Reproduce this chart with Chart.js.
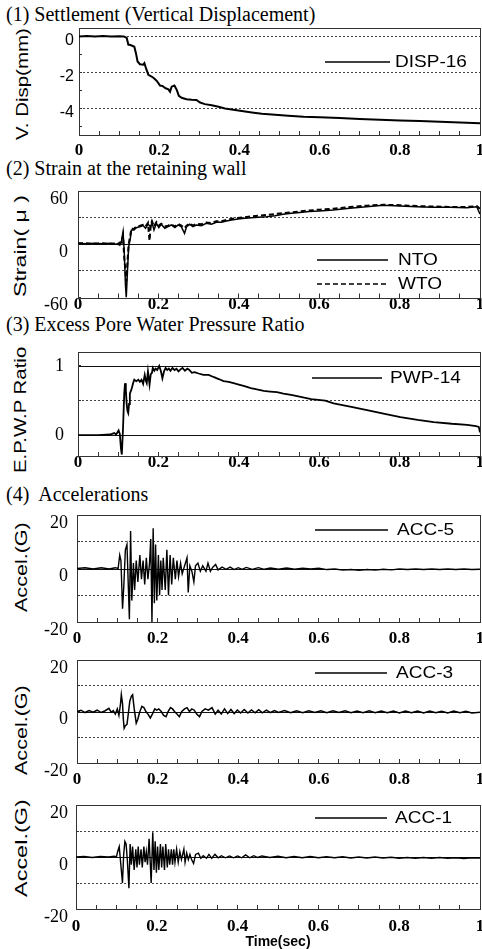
<!DOCTYPE html>
<html>
<head>
<meta charset="utf-8">
<script src="https://cdn.jsdelivr.net/npm/chart.js"></script>
<style>
  html, body { margin: 0; padding: 0; background: #fff; }
  body { width: 482px; height: 949px; overflow: hidden; position: relative; }
  .head { position: absolute; left: 6px; font: 20px "Liberation Serif", "Times New Roman", serif; line-height: 20px; white-space: pre; color: #000; }
  .ytitle { position: absolute; font: 17px "Liberation Sans", Arial, sans-serif; line-height: 17px; white-space: pre; color: #000; }
  canvas { position: absolute; left: 0; }
</style>
</head>
<body>
<div class="head" style="top:4px">(1) Settlement (Vertical Displacement)</div>
<div class="head" style="top:158px">(2) Strain at the retaining wall</div>
<div class="head" style="top:314px">(3) Excess Pore Water Pressure Ratio</div>
<div class="head" style="top:484px">(4)  Accelerations</div>

<div class="ytitle" data-x="22" data-y="84" data-len="112">V. Disp(mm)</div>
<div class="ytitle" data-x="20" data-y="246" data-len="102">Strain( μ )</div>
<div class="ytitle" data-x="20" data-y="410" data-len="126">E.P.W.P Ratio</div>
<div class="ytitle" data-x="21" data-y="567" data-len="90">Accel.(G)</div>
<div class="ytitle" data-x="21" data-y="730" data-len="90">Accel.(G)</div>
<div class="ytitle" data-x="21" data-y="848" data-len="98">Accel.(G)</div>

<canvas id="c1"></canvas>
<canvas id="c2"></canvas>
<canvas id="c3"></canvas>
<canvas id="c4"></canvas>
<canvas id="c5"></canvas>
<canvas id="c6"></canvas>

<script>
// time axis
const xTickValues = [0, 0.05, 0.1, 0.15, 0.2, 0.25, 0.3, 0.35, 0.4, 0.45, 0.5,
  0.55, 0.6, 0.65, 0.7, 0.75, 0.8, 0.85, 0.9, 0.95, 1];
const xTickLabels = ['0', '0.2', '0.4', '0.6', '0.8', '1'];

// (1) settlement
const dispTime = [
  0, 0.02, 0.04, 0.06, 0.08, 0.1, 0.112, 0.119, 0.123, 0.13,
  0.138, 0.142, 0.146, 0.152, 0.16, 0.163, 0.167, 0.173, 0.181, 0.187,
  0.194, 0.202, 0.208, 0.216, 0.223, 0.227, 0.231, 0.238, 0.244, 0.249,
  0.256, 0.268, 0.281, 0.293, 0.302, 0.314, 0.331, 0.348, 0.364, 0.385,
  0.406, 0.431, 0.456, 0.489, 0.522, 0.56, 0.6, 0.65, 0.7, 0.75,
  0.8, 0.85, 0.9, 0.95, 1
];
const dispValues = [
  0.03, 0.05, 0.02, 0.05, 0.03, 0.04, 0.03, -0.06, -0.43, -0.47,
  -0.55, -0.91, -1.38, -1.53, -1.56, -1.47, -1.75, -2.13, -2.22, -2.32,
  -2.47, -2.73, -2.75, -2.88, -2.94, -3.07, -2.79, -2.73, -2.98, -3.3,
  -3.41, -3.49, -3.52, -3.54, -3.68, -3.77, -3.83, -3.92, -4.01, -4.09,
  -4.16, -4.24, -4.31, -4.37, -4.42, -4.47, -4.5, -4.55, -4.6, -4.64,
  -4.68, -4.72, -4.76, -4.8, -4.84
];

// (2) strain at the wall
const strainTime = [
  0, 0.02, 0.04, 0.06, 0.08, 0.095, 0.1, 0.104, 0.108, 0.112,
  0.115, 0.118, 0.12, 0.123, 0.126, 0.13, 0.133, 0.139, 0.145, 0.154,
  0.162, 0.168, 0.174, 0.178, 0.181, 0.184, 0.189, 0.195, 0.201, 0.207,
  0.216, 0.224, 0.232, 0.241, 0.249, 0.257, 0.265, 0.27, 0.278, 0.286,
  0.294, 0.307, 0.319, 0.332, 0.344, 0.357, 0.369, 0.382, 0.398, 0.415,
  0.431, 0.448, 0.469, 0.49, 0.51, 0.531, 0.552, 0.575, 0.6, 0.635,
  0.676, 0.718, 0.759, 0.801, 0.842, 0.884, 0.925, 0.967, 0.992, 1
];
const ntoValues = [
  1, 0.5, 1, 0.5, 1, 0, 1, -1, 3, 14,
  -8, -45, -60, -31, -3, 6, 16, 16, 18.7, 19.8,
  21, 18, 22.5, 21, 19.8, 24.7, 16, 23.6, 18.7, 22.5,
  18, 19.8, 21.7, 18.7, 21.7, 19.8, 12.3, 19.8, 22.5, 19.8,
  21.7, 21, 23.6, 22.5, 24.7, 24.7, 26.2, 27.3, 28.4, 29.2,
  29.9, 30.3, 31.1, 32.2, 33.7, 34.8, 35.9, 37, 37.5, 38.6,
  40.5, 42.3, 43.9, 43.1, 42.3, 41.6, 41.6, 41.2, 42.3, 34
];
const wtoValues = [
  1, 1, 0.5, 1, 0.5, 1, 0, 2, 2, 10,
  -15, -30, -42, -20, 0, 10, 18, 17, 20, 21,
  22, 20, 24, 4, 22, 26, 20, 25, 21, 23,
  20, 21, 22.5, 20, 23, 21, 18, 21, 23.5, 21,
  23, 22.5, 24.5, 24, 26, 26, 27.5, 28.5, 29.5, 30.5,
  31.5, 32, 33, 34, 35, 36, 37, 38, 39, 40,
  42, 43.5, 44.5, 44, 43, 42.5, 42, 42, 43, 40
];

// (3) excess pore water pressure ratio
const pwpTime = [
  0, 0.05, 0.08, 0.09, 0.095, 0.099, 0.101, 0.104, 0.107, 0.109,
  0.112, 0.115, 0.117, 0.119, 0.121, 0.123, 0.125, 0.127, 0.129, 0.133,
  0.137, 0.14, 0.145, 0.15, 0.154, 0.158, 0.162, 0.166, 0.169, 0.171,
  0.174, 0.178, 0.181, 0.184, 0.186, 0.19, 0.193, 0.197, 0.202, 0.206,
  0.21, 0.214, 0.218, 0.222, 0.226, 0.23, 0.235, 0.24, 0.245, 0.25,
  0.255, 0.26, 0.266, 0.272, 0.277, 0.283, 0.29, 0.3, 0.312, 0.325,
  0.337, 0.35, 0.362, 0.375, 0.387, 0.4, 0.412, 0.43, 0.445, 0.462,
  0.478, 0.495, 0.511, 0.53, 0.548, 0.58, 0.615, 0.636, 0.68, 0.719,
  0.76, 0.802, 0.845, 0.885, 0.93, 0.968, 0.99, 0.997, 1
];
const pwpValues = [
  0, 0, 0.01, 0.03, 0.01, 0.05, 0.07, 0.02, -0.2, -0.28,
  0.1, 0.6, 0.75, 0.65, 0.46, 0.35, 0.32, 0.45, 0.6, 0.66,
  0.75, 0.8, 0.78, 0.8, 0.77, 0.8, 0.74, 0.87, 0.78, 0.75,
  0.92, 0.73, 0.88, 0.9, 0.97, 0.93, 0.96, 0.94, 1.0, 0.93,
  0.82, 0.92, 0.97, 0.94, 0.96, 0.93, 0.97, 0.94, 0.96, 0.92,
  0.95, 0.97, 0.93, 0.96, 0.94, 0.9, 0.91, 0.89, 0.87, 0.87,
  0.84, 0.81, 0.78, 0.77, 0.75, 0.73, 0.71, 0.68, 0.66, 0.64,
  0.63, 0.62, 0.6, 0.58, 0.56, 0.52, 0.5, 0.46, 0.41, 0.36,
  0.31, 0.26, 0.22, 0.19, 0.165, 0.15, 0.13, 0.12, 0.04
];

// (4) accelerations
const acc5Time = [
  0, 0.02, 0.04, 0.06, 0.08, 0.095, 0.102, 0.106, 0.109, 0.113,
  0.116, 0.12, 0.124, 0.127, 0.13, 0.133, 0.136, 0.14, 0.143, 0.147,
  0.151, 0.156, 0.16, 0.164, 0.168, 0.172, 0.176, 0.18, 0.183, 0.186,
  0.189, 0.192, 0.195, 0.198, 0.202, 0.205, 0.208, 0.211, 0.214, 0.219,
  0.223, 0.227, 0.231, 0.235, 0.239, 0.244, 0.248, 0.252, 0.257, 0.261,
  0.267, 0.273, 0.276, 0.28, 0.285, 0.29, 0.294, 0.3, 0.306, 0.312,
  0.32, 0.325, 0.331, 0.337, 0.344, 0.35, 0.36, 0.37, 0.38, 0.39,
  0.4, 0.41, 0.42, 0.435, 0.45, 0.465, 0.48, 0.5, 0.52, 0.54,
  0.56, 0.58, 0.6, 0.62, 0.64, 0.66, 0.68, 0.7, 0.72, 0.74,
  0.76, 0.78, 0.8, 0.82, 0.84, 0.86, 0.88, 0.9, 0.92, 0.94,
  0.96, 0.98, 1
];
const acc5Values = [
  0, 0.3, -0.2, 0.3, -0.2, 0.3, 0, 5, 3, -15,
  -7, 7, 9, -5, -19, 14, -12, 2, -8, 3,
  -5, 5, -4, 3, -6, 4, -4, 2, 11, -20,
  15, -13, 9, -12, 5, -10, 3, -8, 4, -8,
  7, -10, 5, -6, 4, -4, 3, -3, 2, -2,
  1, 4, -9, 1, -1, -5, 1, 2, -1, 1,
  -1, 2, -1, 0.5, 1.5, -0.5, 0.5, -0.3, 0.5, -0.4,
  0.3, -0.3, 0.4, -0.3, 0.3, -0.3, 0.2, -0.3, 0.2, -0.3,
  0.1, -0.2, 0.1, -0.4, -0.2, -0.6, -0.4, -0.7, -0.4, -0.6,
  -0.3, -0.5, -0.2, -0.4, -0.2, -0.4, -0.2, -0.4, -0.2, -0.4,
  -0.2, -0.4, -0.3
];

const acc3Time = [
  0, 0.01, 0.02, 0.03, 0.04, 0.05, 0.06, 0.07, 0.079, 0.085,
  0.09, 0.095, 0.1, 0.104, 0.108, 0.11, 0.113, 0.115, 0.117, 0.12,
  0.124, 0.128, 0.131, 0.135, 0.138, 0.142, 0.147, 0.151, 0.155, 0.161,
  0.166, 0.171, 0.176, 0.182, 0.187, 0.193, 0.198, 0.203, 0.209, 0.215,
  0.221, 0.226, 0.232, 0.237, 0.242, 0.248, 0.254, 0.26, 0.267, 0.273,
  0.279, 0.285, 0.291, 0.297, 0.304, 0.31, 0.318, 0.326, 0.335, 0.343,
  0.35, 0.358, 0.366, 0.374, 0.382, 0.39, 0.398, 0.406, 0.415, 0.424,
  0.433, 0.442, 0.451, 0.46, 0.47, 0.48, 0.49, 0.5, 0.515, 0.53,
  0.545, 0.56, 0.575, 0.59, 0.605, 0.62, 0.635, 0.65, 0.665, 0.68,
  0.695, 0.71, 0.725, 0.74, 0.755, 0.77, 0.785, 0.8, 0.815, 0.83,
  0.845, 0.86, 0.875, 0.89, 0.905, 0.92, 0.935, 0.95, 0.965, 0.98,
  1
];
const acc3Values = [
  0, 0.5, -0.4, 0.4, -0.3, 0.5, -0.4, 0.3, 1.2, -0.3,
  0.3, -1, 1, -1.5, 3, 6.5, 3, -3, -6.5, -5.5,
  -5, 0, 4, 6, 6.5, 1, -4.5, -3, -0.5, 2,
  1.5, 0, -1, -2.5, -1, 1, 0.5, 1, 0, -1.5,
  -2, 0, 1.5, 1, 0, -1, -2, 0, 1, 1.5,
  0, 1, 0.5, -1, -2, 0, 1, 0.5, 1.5, -1,
  0.5, -1, 1, -0.8, 0.8, -0.8, 0.6, -0.6, 0.8, -0.6,
  0.6, -0.5, 0.7, -0.5, 0.5, -0.4, 0.4, -0.4, 0.4, -0.5,
  0.3, -0.5, 0.3, -0.4, 0.3, -0.5, 0.3, -0.4, 0.3, -0.5,
  0.2, -0.5, 0.3, -0.5, 0.2, -0.5, 0.2, -0.6, 0.2, -0.5,
  0.2, -0.6, 0.2, -0.5, 0.1, -0.6, 0.2, -0.5, 0.1, -0.6,
  -0.3
];

const acc1Time = [
  0, 0.02, 0.04, 0.06, 0.08, 0.095, 0.1, 0.103, 0.107, 0.111,
  0.115, 0.118, 0.121, 0.124, 0.127, 0.131, 0.134, 0.137, 0.14, 0.144,
  0.148, 0.151, 0.154, 0.157, 0.161, 0.164, 0.168, 0.171, 0.174, 0.177,
  0.181, 0.184, 0.186, 0.19, 0.193, 0.196, 0.199, 0.202, 0.205, 0.209,
  0.212, 0.215, 0.219, 0.222, 0.226, 0.229, 0.232, 0.236, 0.239, 0.242,
  0.245, 0.249, 0.253, 0.257, 0.261, 0.267, 0.27, 0.274, 0.278, 0.282,
  0.286, 0.291, 0.296, 0.303, 0.309, 0.315, 0.323, 0.329, 0.336, 0.344,
  0.352, 0.36, 0.37, 0.38, 0.39, 0.4, 0.41, 0.42, 0.43, 0.44,
  0.45, 0.46, 0.48, 0.5, 0.52, 0.54, 0.56, 0.58, 0.6, 0.62,
  0.64, 0.66, 0.68, 0.7, 0.72, 0.74, 0.76, 0.78, 0.8, 0.82,
  0.84, 0.86, 0.88, 0.9, 0.92, 0.94, 0.96, 0.98, 1
];
const acc1Values = [
  0, 0.2, -0.2, 0.2, 0, 0.3, 0, 2, 4, -3,
  -10, 1, 6, 5, -1, -12, 5, -3, 4, -5,
  3, -4, 4, -3, 3, -4, 4, -2, 2, -3,
  7, -3, -10, 9.5, -5, 6, -6, 4, -5, 5,
  -4, 4, -5, 5, -4, 3, -3, 3, -3, 3,
  -2, 3, -2, 2, -1, 3, -2, 1.5, -1, 1,
  -1, -2.5, 1, 1.5, -0.5, 0.5, -0.5, 1, -0.5, 1,
  -0.3, 0.5, -0.3, 0.4, -0.3, 0.4, -0.3, 0.8, -0.3, 0.5,
  -0.2, 0.4, -0.2, 0.3, -0.3, 0.2, -0.3, 0.2, -0.3, 0.1,
  -0.3, 0.1, -0.4, 0, -0.4, 0, -0.4, -0.1, -0.5, -0.2,
  -0.5, -0.2, -0.5, -0.2, -0.5, -0.3, -0.6, -0.3, -0.4
];

const sansFont = '"Liberation Sans", Arial, sans-serif';
const serifFont = '"Liberation Serif", "Times New Roman", serif';
const accTicks = [-20, -10, 0, 10, 20];

// one entry per plot; top/bottom/left are the plot frame in page pixels
const panels = [
  { id: 'c1', top: 28, bottom: 135, left: 79, canvasBottom: 165, min: -5.5, max: 0.5,
    yTicks: [-5, -4, -3, -2, -1, 0], yLabels: [0, -2, -4], dotted: [0, -2, -4], solid: [],
    yFont: { family: sansFont, size: 16 }, yPad: 8, yShift: 4, xPad: 9,
    legend: { x1: 325, x2: 390, tx: 395, ys: [62] },
    series: [{ label: 'DISP-16', t: dispTime, v: dispValues, width: 2 }] },
  { id: 'c2', top: 191, bottom: 297.5, left: 78, canvasBottom: 316, min: -60, max: 60,
    yTicks: [-60, -30, 0, 30, 60], yLabels: [-60, 0, 60], dotted: [-30, 30], solid: [0],
    yFont: { family: serifFont, size: 18 }, yPad: 13, yShift: 8, xPad: 1,
    legend: { x1: 317, x2: 388, tx: 398, ys: [260, 284] },
    series: [
      { label: 'NTO', t: strainTime, v: ntoValues, width: 1.5 },
      { label: 'WTO', t: strainTime, v: wtoValues, width: 2, dash: [5, 3] }
    ] },
  { id: 'c3', top: 352, bottom: 456, left: 78, canvasBottom: 476, min: -0.3, max: 1.2,
    yTicks: [0, 0.5, 1], yLabels: [0, 1], dotted: [0.5], solid: [0, 1],
    yFont: { family: serifFont, size: 18 }, yPad: 17, yShift: 0, xPad: 0,
    legend: { x1: 312, x2: 382, tx: 390, ys: [378] },
    series: [{ label: 'PWP-14', t: pwpTime, v: pwpValues, width: 1.8 }] },
  { id: 'c4', top: 515, bottom: 622, left: 77, canvasBottom: 652, min: -20, max: 20,
    yTicks: accTicks, yLabels: [-20, 0, 20], dotted: [-10, 10], solid: [0],
    yFont: { family: serifFont, size: 18 }, yPad: 12, yShift: 8, xPad: 10,
    legend: { x1: 315, x2: 388, tx: 397, ys: [530] },
    series: [{ label: 'ACC-5', t: acc5Time, v: acc5Values, width: 1.4 }] },
  { id: 'c5', top: 660, bottom: 763, left: 77, canvasBottom: 793, min: -20, max: 20,
    yTicks: accTicks, yLabels: [-20, 0, 20], dotted: [-10, 10], solid: [0],
    yFont: { family: serifFont, size: 18 }, yPad: 12, yShift: 8, xPad: 10,
    legend: { x1: 315, x2: 387, tx: 396, ys: [673] },
    series: [{ label: 'ACC-3', t: acc3Time, v: acc3Values, width: 1.5 }] },
  { id: 'c6', top: 805, bottom: 909, left: 76, canvasBottom: 949, min: -20, max: 20,
    yTicks: accTicks, yLabels: [-20, 0, 20], dotted: [-10, 10], solid: [0],
    yFont: { family: serifFont, size: 18 }, yPad: 11, yShift: 8, xPad: 11, xTitle: 'Time(sec)',
    legend: { x1: 315, x2: 387, tx: 395, ys: [818] },
    series: [{ label: 'ACC-1', t: acc1Time, v: acc1Values, width: 1.4 }] }
];

// frame round the plot plus the solid reference lines
const framePlugin = {
  id: 'frame',
  beforeDatasetsDraw(chart, args, opts) {
    const { ctx, chartArea: a } = chart;
    const y = chart.scales.y;
    ctx.save();
    ctx.strokeStyle = '#111';
    ctx.lineWidth = 1;
    (opts.solid || []).forEach(v => {
      const py = Math.round(y.getPixelForValue(v)) + 0.5;
      ctx.beginPath();
      ctx.moveTo(a.left, py);
      ctx.lineTo(a.right, py);
      ctx.stroke();
    });
    ctx.strokeStyle = '#333';
    ctx.strokeRect(Math.round(a.left) + 0.5, Math.round(a.top) + 0.5,
      Math.round(a.right - a.left), Math.round(a.bottom - a.top));
    ctx.restore();
  }
};

// legend drawn inside the plot area
const legendPlugin = {
  id: 'inLegend',
  afterDatasetsDraw(chart, args, opts) {
    const ctx = chart.ctx;
    ctx.save();
    chart.data.datasets.forEach((ds, i) => {
      const y = opts.ys[i] - opts.canvasTop;
      ctx.strokeStyle = '#000';
      ctx.lineWidth = 1.5;
      ctx.setLineDash(ds.borderDash || []);
      ctx.beginPath();
      ctx.moveTo(opts.x1, y);
      ctx.lineTo(opts.x2, y);
      ctx.stroke();
      ctx.setLineDash([]);
      ctx.fillStyle = '#000';
      ctx.font = '17px ' + sansFont;
      ctx.textBaseline = 'middle';
      ctx.save();
      ctx.translate(opts.tx, y);
      ctx.scale(1.12, 1);
      ctx.fillText(ds.label, 0, 0);
      ctx.restore();
    });
    ctx.restore();
  }
};

function xLabel(v) {
  const s = String(+Number(v).toFixed(2));
  return xTickLabels.includes(s) ? s : '';
}

function makeChart(p) {
  const canvas = document.getElementById(p.id);
  const canvasTop = p.top - 11;
  const xHeight = p.canvasBottom - p.bottom;
  canvas.width = 482;
  canvas.height = p.canvasBottom - canvasTop;
  canvas.style.top = canvasTop + 'px';

  const datasets = p.series.map(s => ({
    label: s.label,
    data: s.t.map((t, i) => ({ x: t, y: s.v[i] })),
    borderColor: '#000',
    borderWidth: s.width,
    borderDash: s.dash || [],
    pointRadius: 0,
    tension: 0,
    fill: false
  }));

  return new Chart(canvas, {
    type: 'line',
    data: { datasets: datasets },
    options: {
      responsive: false,
      animation: false,
      devicePixelRatio: 1,
      events: [],
      layout: { padding: { top: 11, right: 2, left: 0, bottom: 0 } },
      plugins: {
        legend: { display: false },
        tooltip: { enabled: false },
        frame: { solid: p.solid },
        inLegend: Object.assign({ canvasTop: canvasTop }, p.legend)
      },
      scales: {
        x: {
          type: 'linear', min: 0, max: 1,
          afterBuildTicks: axis => { axis.ticks = xTickValues.map(v => ({ value: v })); },
          afterFit: axis => {
            axis.height = xHeight;
            axis.paddingLeft = 0; axis.paddingRight = 0;
          },
          border: { display: false },
          grid: { drawOnChartArea: false, drawTicks: true, tickLength: -4, tickColor: '#333', tickWidth: 1 },
          ticks: {
            autoSkip: false, maxRotation: 0, padding: p.xPad, color: '#000',
            font: { family: serifFont, size: 17, weight: 'bold' },
            callback: xLabel
          },
          title: p.xTitle
            ? { display: true, text: p.xTitle, color: '#000', padding: 0,
                font: { family: sansFont, size: 14, weight: 'bold', lineHeight: 1 } }
            : { display: false }
        },
        y: {
          type: 'linear', min: p.min, max: p.max,
          afterBuildTicks: axis => { axis.ticks = p.yTicks.map(v => ({ value: v })); },
          afterFit: axis => {
            axis.width = p.left;
            axis.paddingTop = 0; axis.paddingBottom = 0;
          },
          border: { display: false, dash: [2, 2] },
          grid: {
            color: c => (c.tick && p.dotted.includes(c.tick.value)) ? '#444' : 'rgba(0,0,0,0)',
            lineWidth: 1, drawTicks: true, tickLength: -3, tickColor: '#333', tickWidth: 1
          },
          ticks: {
            autoSkip: false, padding: p.yPad, labelOffset: p.yShift, color: '#000',
            font: p.yFont,
            callback: v => p.yLabels.includes(v) ? String(v) : ''
          }
        }
      }
    },
    plugins: [framePlugin, legendPlugin]
  });
}

window.addEventListener('DOMContentLoaded', () => {
  document.querySelectorAll('.ytitle').forEach(el => {
    const w = el.offsetWidth;
    const k = Number(el.dataset.len) / w;
    el.style.left = el.dataset.x + 'px';
    el.style.top = el.dataset.y + 'px';
    el.style.transformOrigin = '0 0';
    el.style.transform = 'rotate(-90deg) scaleX(' + k + ') translate(' + (-w / 2) + 'px,' + (-el.offsetHeight / 2) + 'px)';
  });
  panels.forEach(makeChart);
});
</script>
</body>
</html>
